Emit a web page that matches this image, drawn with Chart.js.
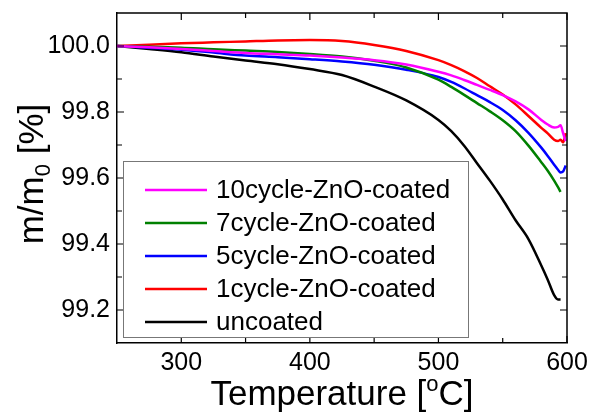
<!DOCTYPE html>
<html><head><meta charset="utf-8">
<script src="https://cdn.jsdelivr.net/npm/chart.js@4.4.1/dist/chart.umd.min.js"></script>
<style>html,body{margin:0;padding:0;background:#fff;}#wrap{width:591px;height:414px;}</style>
</head><body><div id="wrap"><canvas id="c" width="591" height="414"></canvas></div>
<script>
const temps = [250,275,300,325,350,375,400,425,450,475,500,510,520,530,540,550,560,570,580,585,590,593,595,597,599];
const cycle10 = [100.0,99.996,99.991,99.985,99.979,99.975,99.971,99.965,99.957,99.944,99.922,99.911,99.897,99.882,99.867,99.851,99.832,99.808,99.776,99.762,99.753,99.755,99.760,99.735,99.712];
const cycle7 = [100.0,99.998,99.995,99.990,99.986,99.982,99.976,99.968,99.955,99.935,99.898,99.876,99.852,99.827,99.802,99.775,99.742,99.698,99.648,99.622,99.592,99.572,99.558,null,null];
const cycle5 = [100.0,99.995,99.989,99.980,99.971,99.966,99.960,99.953,99.943,99.928,99.906,99.891,99.872,99.851,99.830,99.806,99.775,99.737,99.692,99.667,99.640,99.625,99.617,99.620,99.638];
const cycle1 = [100.0,100.004,100.008,100.011,100.014,100.017,100.018,100.015,100.003,99.985,99.957,99.942,99.924,99.903,99.878,99.853,99.823,99.788,99.752,99.735,99.716,99.712,99.716,99.708,99.736];
const uncoated = [100.0,99.991,99.981,99.968,99.956,99.945,99.930,99.912,99.877,99.835,99.776,99.742,99.698,99.645,99.592,99.535,99.472,99.415,99.335,99.292,99.245,99.232,99.232,null,null];

const seriesLabels = ['10cycle-ZnO-coated','7cycle-ZnO-coated','5cycle-ZnO-coated','1cycle-ZnO-coated','uncoated'];
const seriesValues = [cycle10, cycle7, cycle5, cycle1, uncoated];
const seriesColors = ['#ff00ff','#008000','#0000ff','#ff0000','#000000'];

const xTickValues = [300,400,500,600];
const xMinorValues = [350,450,550];
const yTickValues = [99.2,99.4,99.6,99.8,100.0];
const yMinorValues = [99.3,99.5,99.7,99.9];

const FONT = "'Liberation Sans', Arial, sans-serif";

const framePlugin = {
  id: 'frame',
  afterDraw(chart) {
    const ctx = chart.ctx;
    const a = chart.chartArea;
    const xs = chart.scales.x, ys = chart.scales.y;
    ctx.save();
    ctx.strokeStyle = '#000';
    ctx.lineWidth = 1.5;
    ctx.beginPath();
    ctx.moveTo(a.left, a.top); ctx.lineTo(a.right, a.top); ctx.lineTo(a.right, a.bottom);
    ctx.stroke();
    ctx.lineWidth = 1.2;
    ctx.beginPath();
    const xt = (v, len) => { const p = xs.getPixelForValue(v);
      ctx.moveTo(p, a.bottom); ctx.lineTo(p, a.bottom - len);
      ctx.moveTo(p, a.top); ctx.lineTo(p, a.top + len); };
    const yt = (v, len) => { const p = ys.getPixelForValue(v);
      ctx.moveTo(a.left, p); ctx.lineTo(a.left + len, p);
      ctx.moveTo(a.right, p); ctx.lineTo(a.right - len, p); };
    xTickValues.forEach(v => xt(v, 7));
    xMinorValues.forEach(v => xt(v, 5));
    yTickValues.forEach(v => yt(v, 7));
    yMinorValues.forEach(v => yt(v, 5));
    ctx.stroke();

    // legend
    const lx = 123, ly = 161, lw = 345, lh = 176;
    ctx.fillStyle = '#fff';
    ctx.fillRect(lx, ly, lw, lh);
    ctx.strokeStyle = '#777';
    ctx.lineWidth = 1;
    ctx.strokeRect(lx + 0.5, ly + 0.5, lw, lh);
    ctx.font = '26px ' + FONT;
    ctx.textBaseline = 'middle';
    ctx.textAlign = 'left';
    chart.data.datasets.forEach((ds, i) => {
      const cy = 190 + i * 33;
      ctx.strokeStyle = ds.borderColor;
      ctx.lineWidth = 2.5;
      ctx.beginPath(); ctx.moveTo(145, cy); ctx.lineTo(207, cy); ctx.stroke();
      ctx.fillStyle = '#000';
      ctx.fillText(ds.label, 216, cy + 1);
    });

    // x title
    ctx.fillStyle = '#000';
    ctx.textBaseline = 'alphabetic';
    const big = '35px ' + FONT, small = '22px ' + FONT;
    ctx.font = big;
    const p1 = 'Temperature [', p3 = 'C]';
    const w1 = ctx.measureText(p1).width, w3 = ctx.measureText(p3).width;
    ctx.font = small; const w2 = ctx.measureText('o').width;
    const total = w1 + w2 + w3;
    let x0 = (a.left + a.right) / 2 - total / 2;
    const by = 405;
    ctx.font = big; ctx.fillText(p1, x0, by);
    ctx.font = small; ctx.fillText('o', x0 + w1, by - 14);
    ctx.font = big; ctx.fillText(p3, x0 + w1 + w2, by);

    // y title
    ctx.save();
    ctx.translate(43, 174);
    ctx.rotate(-Math.PI / 2);
    ctx.font = big;
    const q1 = 'm/m', q3 = ' [%]';
    const v1 = ctx.measureText(q1).width, v3 = ctx.measureText(q3).width;
    ctx.font = small; const v2 = ctx.measureText('0').width;
    let s0 = -(v1 + v2 + v3) / 2;
    ctx.font = big; ctx.fillText(q1, s0, 0);
    ctx.font = small; ctx.fillText('0', s0 + v1, 7);
    ctx.font = big; ctx.fillText(q3, s0 + v1 + v2, 0);
    ctx.restore();
    ctx.restore();
  }
};

new Chart(document.getElementById('c'), {
  type: 'line',
  data: {
    datasets: seriesLabels.map((lab, i) => ({
      label: lab,
      data: temps.map((t, j) => ({x: t, y: seriesValues[i][j]})).filter(p => p.y !== null),
      borderColor: seriesColors[i],
      borderWidth: 2.5,
      pointRadius: 0,
      fill: false,
      cubicInterpolationMode: 'monotone'
    }))
  },
  options: {
    responsive: false,
    animation: false,
    devicePixelRatio: 1,
    layout: {padding: {left: 0, right: 24, top: 13, bottom: 0}},
    plugins: {legend: {display: false}, tooltip: {enabled: false}},
    scales: {
      x: {
        type: 'linear', min: 250, max: 600,
        afterBuildTicks: s => { s.ticks = xTickValues.map(v => ({value: v})); },
        afterFit: s => { s.height = 71; s.paddingLeft = 0; s.paddingRight = 0; },
        grid: {drawOnChartArea: false, drawTicks: false},
        border: {color: '#000', width: 1.5},
        ticks: {font: {family: FONT, size: 25}, color: '#000', padding: 5, maxRotation: 0, callback: v => String(v)}
      },
      y: {
        type: 'linear', min: 99.1, max: 100.1,
        afterBuildTicks: s => { s.ticks = yTickValues.map(v => ({value: v})); },
        afterFit: s => { s.width = 117; s.paddingTop = 0; s.paddingBottom = 0; },
        grid: {drawOnChartArea: false, drawTicks: false},
        border: {color: '#000', width: 1.5},
        ticks: {font: {family: FONT, size: 25}, color: '#000', padding: 7, callback: v => v.toFixed(1)}
      }
    }
  },
  plugins: [framePlugin]
});
</script></body></html>
